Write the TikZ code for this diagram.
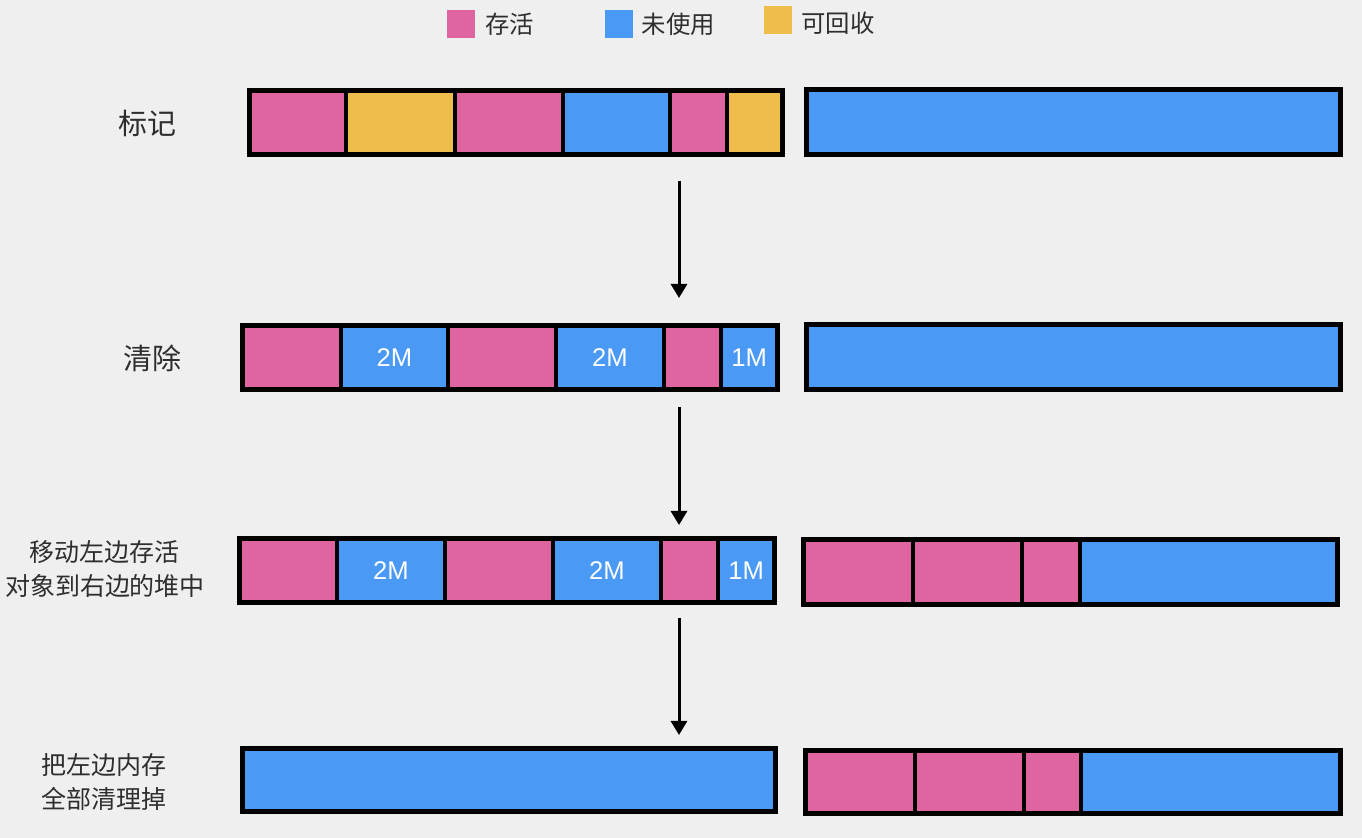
\documentclass[tikz,border=0pt]{standalone}
\usepackage{fontspec}
\setmainfont{Liberation Sans}
\newfontfamily\cjk{Noto Sans CJK SC}
\usetikzlibrary{arrows.meta,positioning}

\definecolor{live}{HTML}{DF65A0}
\definecolor{unused}{HTML}{4A9AF5}
\definecolor{junk}{HTML}{EEBD4B}
\definecolor{paper}{HTML}{EFEFEF}
\definecolor{ink}{HTML}{2E2E2E}

\tikzset{
  cell/.style={draw=black,line width=2.4pt,inner sep=0pt,text=white,font=\fontsize{12.8}{15}\selectfont},
  key/.style={minimum size=14pt,inner sep=0pt},
  keytext/.style={inner sep=0pt,text=ink,font=\cjk\fontsize{12.2}{15}\selectfont},
  lbl/.style={inner sep=0pt,text=ink,align=center,font=\cjk\fontsize{12.5}{17}\selectfont},
  biglbl/.style={lbl,font=\cjk\fontsize{14.5}{17}\selectfont},
  flow/.style={line width=1.5pt,-{Triangle[width=8pt,length=7pt]}}
}

\begin{document}
\begin{tikzpicture}[x=0.5pt,y=-0.5pt]

\fill[paper] (0,0) rectangle (1362,838);
\useasboundingbox (0,0) rectangle (1362,838);

% legend
\node[key,fill=live] (kLive) at (460.5,24) {};
\node[keytext,right=5pt of kLive] (tLive) {存活};
\node[key,fill=unused] (kUnused) at (619,24) {};
\node[keytext,right=4pt of kUnused] (tUnused) {未使用};
\node[key,fill=junk] (kJunk) at (777.5,20.5) {};
\node[keytext,right=4.5pt of kJunk,yshift=-1.5pt] (tJunk) {可回收};

% row labels
\node[biglbl] (lMark) at (148,123) {标记};
\node[biglbl] (lSweep) at (152,358) {清除};
\node[lbl] (lMove) at (105,569) {移动左边存活\\对象到右边的堆中};
\node[lbl] (lFree) at (104,782) {把左边内存\\全部清理掉};

% mark
\foreach \a/\b/\c [count=\i] in {249.5/346/live,346/455/junk,455/563/live,563/670/unused,670/727/live,727/782.5/junk}{
  \node[cell,fill=\c,minimum width={(\b-\a)*0.5pt},minimum height=32pt] (mark\i) at ({(\a+\b)/2},122.5) {};
}
\node[cell,fill=unused,minimum width=267pt,minimum height=32.5pt] (markR) at (1073.5,122) {};

% sweep
\foreach \a/\b/\c/\t [count=\i] in {242.5/341/live/{},341/448/unused/2M,448/556/live/{},556/664/unused/2M,664/721/live/{},721/777.5/unused/1M}{
  \node[cell,fill=\c,minimum width={(\b-\a)*0.5pt},minimum height=32pt] (sweep\i) at ({(\a+\b)/2},357.5) {\t};
}
\node[cell,fill=unused,minimum width=267pt,minimum height=32.5pt] (sweepR) at (1073.5,357) {};

% move
\foreach \a/\b/\c/\t [count=\i] in {239.5/337/live/{},337/445/unused/2M,445/553/live/{},553/661/unused/2M,661/718/live/{},718/774.5/unused/1M}{
  \node[cell,fill=\c,minimum width={(\b-\a)*0.5pt},minimum height=32pt] (move\i) at ({(\a+\b)/2},570.5) {\t};
}
\foreach \a/\b/\c [count=\i] in {803.5/913/live,913/1022/live,1022/1080/live,1080/1337.5/unused}{
  \node[cell,fill=\c,minimum width={(\b-\a)*0.5pt},minimum height=32.5pt] (moveR\i) at ({(\a+\b)/2},572) {};
}

% free
\node[cell,fill=unused,minimum width=266.5pt,minimum height=31.5pt] (free) at (509,780) {};
\foreach \a/\b/\c [count=\i] in {805.5/915/live,915/1024/live,1024/1081/live,1081/1340.5/unused}{
  \node[cell,fill=\c,minimum width={(\b-\a)*0.5pt},minimum height=31.5pt] (freeR\i) at ({(\a+\b)/2},782) {};
}

% arrows
\coordinate (s1) at (679,181);
\coordinate (e1) at (679,298);
\coordinate (s2) at (679,407);
\coordinate (e2) at (679,525);
\coordinate (s3) at (679,618);
\coordinate (e3) at (679,735);
\foreach \p/\q in {s1/e1,s2/e2,s3/e3}{
  \draw[flow] (\p) -- (\q);
}

\end{tikzpicture}
\end{document}
